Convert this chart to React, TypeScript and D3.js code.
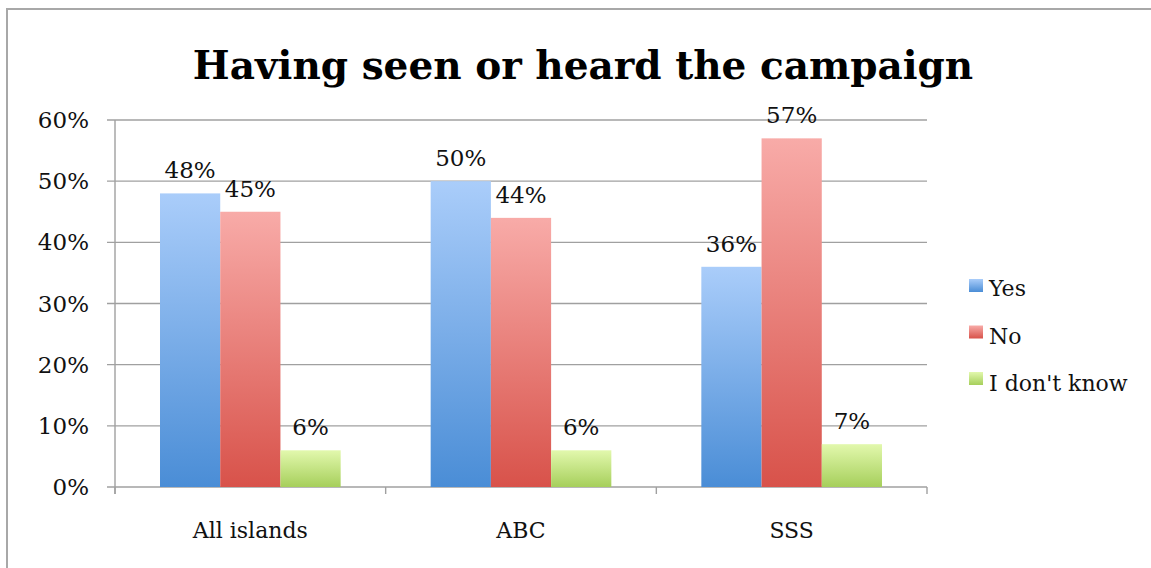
import React from "react";
import * as d3 from "d3";

const categories = ["All islands", "ABC", "SSS"];
const seriesNames = ["Yes", "No", "I don't know"];
const yesValues = [48, 50, 36];
const noValues = [45, 44, 57];
const idkValues = [6, 6, 7];
const yTicks = [0, 10, 20, 30, 40, 50, 60];

const gradients = [
  { id: "gYes", top: "#aacdfa", bottom: "#4a8dd6" },
  { id: "gNo", top: "#f8aba8", bottom: "#d8524a" },
  { id: "gIdk", top: "#e2f8ad", bottom: "#a6cf5b" },
];

export default function App() {
  const W = 1151, H = 568;
  const left = 115, right = 927, top = 120, bottom = 487;
  const series = [yesValues, noValues, idkValues];
  const x = d3.scaleBand<string>().domain(categories).range([left, right]).paddingInner(0).paddingOuter(0);
  const inner = d3.scaleBand<number>().domain([0, 1, 2]).range([45, x.bandwidth() - 45]).padding(0);
  const y = d3.scaleLinear().domain([0, 60]).range([bottom, top]);
  const font = "'DejaVu Serif', serif";
  const grid = "#a0a0a0";
  return (
    <svg width={W} height={H} style={{ position: "absolute", left: 0, top: 0, background: "#fff" }}>
      <defs>
        {gradients.map((g) => (
          <linearGradient key={g.id} id={g.id} x1="0" y1="0" x2="0" y2="1">
            <stop offset="0%" stopColor={g.top} />
            <stop offset="100%" stopColor={g.bottom} />
          </linearGradient>
        ))}
      </defs>
      <rect x={7} y={9} width={1200} height={600} fill="#fff" stroke="#a8a8a8" strokeWidth={2} />
      <text x={583} y={79} textAnchor="middle" fontFamily={font} fontWeight="bold" fontSize={39} fill="#000">
        Having seen or heard the campaign
      </text>
      {yTicks.map((t) => (
        <g key={t}>
          <line x1={107} x2={right} y1={y(t)} y2={y(t)} stroke={grid} strokeWidth={1.4} />
          <text x={89} y={y(t) + 8} textAnchor="end" fontFamily={font} fontSize={23} fill="#111">
            {t}%
          </text>
        </g>
      ))}
      <line x1={left} x2={left} y1={top} y2={bottom + 7} stroke={grid} strokeWidth={1.4} />
      {[...categories.map((c) => x(c) as number), right].map((bx, i) => (
        <line key={i} x1={bx} x2={bx} y1={bottom} y2={bottom + 7} stroke={grid} strokeWidth={1.4} />
      ))}
      {categories.map((c, ci) => (
        <g key={c}>
          {series.map((vals, si) => {
            const bx = (x(c) as number) + (inner(si) as number);
            const bw = inner.bandwidth();
            return (
              <g key={si}>
                <rect x={bx} y={y(vals[ci])} width={bw} height={bottom - y(vals[ci])} fill={`url(#${gradients[si].id})`} />
                <text x={bx + bw / 2} y={y(vals[ci]) - 15} textAnchor="middle" fontFamily={font} fontSize={23} fill="#111">
                  {vals[ci]}%
                </text>
              </g>
            );
          })}
          <text x={(x(c) as number) + x.bandwidth() / 2} y={538} textAnchor="middle" fontFamily={font} fontSize={22} fill="#111">
            {c}
          </text>
        </g>
      ))}
      {seriesNames.map((n, i) => (
        <g key={n}>
          <rect x={969} y={279 + i * 46.5} width={14} height={13} fill={`url(#${gradients[i].id})`} />
          <text x={989} y={296 + i * 47.5} fontFamily={font} fontSize={22} fill="#111">
            {n}
          </text>
        </g>
      ))}
    </svg>
  );
}
